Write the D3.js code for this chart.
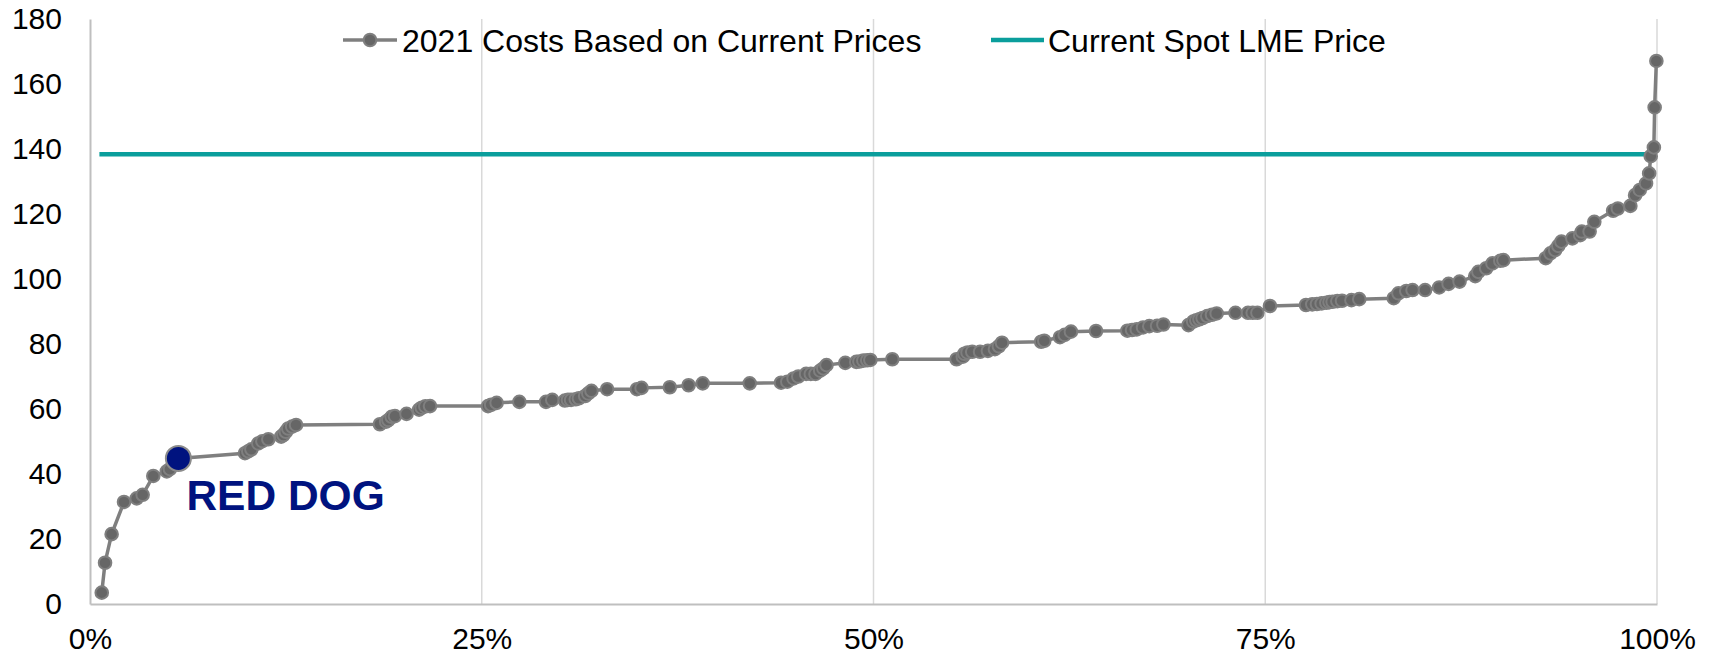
<!DOCTYPE html>
<html><head><meta charset="utf-8">
<script src="https://cdn.jsdelivr.net/npm/d3@7"></script>
<style>
html,body{margin:0;padding:0;background:#fff;}
svg{display:block;font-family:"Liberation Sans",Arial,sans-serif;}
</style></head>
<body>
<svg id="chart" width="1710" height="658"></svg>
<script>
// cumulative share of production (%) and 2021 cost
const cumPct = [0.75,0.96,1.38,2.17,2.98,3.36,4.04,4.9,5.1,5.64,9.89,10.1,10.3,10.74,11.0,11.38,12.2,12.34,12.5,12.65,12.9,13.15,18.5,18.9,19.04,19.25,19.46,20.2,21.0,21.17,21.4,21.7,25.4,25.6,25.95,27.4,29.1,29.5,30.3,30.5,30.7,31.0,31.2,31.6,31.8,32.0,33.0,34.9,35.2,37.0,38.2,39.1,42.1,44.1,44.5,44.9,45.2,45.7,46.0,46.3,46.6,46.8,47.0,48.2,48.9,49.1,49.35,49.6,49.8,51.2,55.3,55.7,55.8,56.0,56.3,56.8,57.3,57.75,58.0,58.2,60.7,60.9,61.9,62.2,62.6,64.2,66.2,66.5,66.8,67.2,67.6,68.1,68.5,70.1,70.4,70.6,70.8,71.0,71.3,71.6,71.9,73.1,73.9,74.2,74.5,75.3,77.6,78.0,78.3,78.6,78.9,79.1,79.3,79.6,79.9,80.5,81.0,83.2,83.5,84.0,84.4,85.2,86.1,86.7,87.4,88.4,88.6,89.1,89.5,90.0,90.2,92.9,93.2,93.5,93.7,93.9,94.6,95.1,95.2,95.7,96.0,97.2,97.5,98.3,98.6,98.9,99.3,99.5,99.6,99.8,99.85,99.96];
const costs = [3.5,12.7,21.5,31.4,32.5,33.6,39.4,40.8,41.5,44.8,46.4,47.0,47.6,49.4,50.1,50.7,51.5,52.0,53.0,54.0,54.6,55.1,55.3,56.1,56.6,57.6,57.8,58.5,59.8,60.4,60.8,60.9,60.9,61.3,61.9,62.2,62.2,62.8,62.6,62.8,62.8,63.0,63.3,64.0,64.8,65.6,66.1,66.1,66.5,66.7,67.3,67.9,67.9,68.1,68.4,69.4,70.0,70.8,70.8,70.8,71.8,72.5,73.5,74.2,74.5,74.6,74.9,75.0,75.1,75.3,75.3,76.1,77.0,77.4,77.6,77.6,77.9,78.4,79.3,80.4,80.7,81.0,82.1,82.8,83.8,84.0,84.1,84.3,84.5,85.1,85.5,85.6,86.0,85.8,86.9,87.3,87.6,88.0,88.6,89.0,89.4,89.6,89.6,89.6,89.6,91.7,92.0,92.2,92.3,92.5,92.7,92.9,93.0,93.2,93.3,93.5,93.8,94.1,95.6,96.3,96.6,96.6,97.4,98.5,99.2,100.9,102.2,103.3,104.8,105.6,105.8,106.4,107.9,108.9,110.2,111.5,112.5,113.5,114.6,114.6,117.6,121.0,121.7,122.5,125.8,127.4,129.4,132.5,137.8,140.5,152.8,167.1];
const redDogIndex = 9;
const spotPrice = 138.4;
const yTicks = [0,20,40,60,80,100,120,140,160,180];
const xTicks = [0,0.25,0.5,0.75,1];
const seriesNames = ["2021 Costs Based on Current Prices","Current Spot LME Price"];
const highlightLabel = "RED DOG";

const svg = d3.select("#chart");
const x = d3.scaleLinear().domain([0,1]).range([90,1657]);
const y = d3.scaleLinear().domain([0,180]).range([604,19]);
const data = cumPct.map((p,i)=>({p:p/100,c:costs[i]}));

// vertical gridlines
svg.append("g").selectAll("line").data(xTicks.slice(1)).join("line")
  .attr("x1",d=>x(d)).attr("x2",d=>x(d)).attr("y1",y(180)).attr("y2",y(0))
  .attr("stroke","#d9d9d9").attr("stroke-width",1.5);

// axes
const xAxis = svg.append("g").attr("transform",`translate(0,${y(0)})`)
  .call(d3.axisBottom(x).tickValues(xTicks).tickFormat(d3.format(".0%")).tickSize(0).tickPadding(24));
xAxis.select(".domain").attr("stroke","#bfbfbf").attr("stroke-width",2);
xAxis.selectAll("text").attr("font-size",30).attr("fill","#000").attr("font-family","Liberation Sans, Arial, sans-serif");

const yAxis = svg.append("g").attr("transform",`translate(${x(0)},0)`)
  .call(d3.axisLeft(y).tickValues(yTicks).tickSize(0).tickPadding(28));
yAxis.select(".domain").attr("stroke","#bfbfbf").attr("stroke-width",2);
yAxis.selectAll("text").attr("font-size",30).attr("fill","#000").attr("font-family","Liberation Sans, Arial, sans-serif");

// spot price line
svg.append("line").attr("x1",x(0.006)).attr("x2",x(1)).attr("y1",y(spotPrice)).attr("y2",y(spotPrice))
  .attr("stroke","#0a9e9c").attr("stroke-width",4.5);

// cost curve
svg.append("path").datum(data)
  .attr("d",d3.line().x(d=>x(d.p)).y(d=>y(d.c)))
  .attr("fill","none").attr("stroke","#7f7f7f").attr("stroke-width",3.5);

svg.append("g").selectAll("circle").data(data.filter((d,i)=>i!==redDogIndex)).join("circle")
  .attr("cx",d=>x(d.p)).attr("cy",d=>y(d.c)).attr("r",6.3)
  .attr("fill","#666666").attr("stroke","#7f7f7f").attr("stroke-width",2);

// Red Dog highlight
const rd = data[redDogIndex];
svg.append("circle").attr("cx",x(rd.p)).attr("cy",y(rd.c)).attr("r",12.5)
  .attr("fill","#00137f").attr("stroke","#8c8c8c").attr("stroke-width",2);
svg.append("text").attr("x",x(rd.p)+8).attr("y",y(rd.c)+52)
  .attr("font-size",42.5).attr("font-weight","bold").attr("fill","#00137f").text(highlightLabel);

// legend
const lg = svg.append("g");
lg.append("line").attr("x1",343).attr("x2",397).attr("y1",40).attr("y2",40).attr("stroke","#7f7f7f").attr("stroke-width",3.5);
lg.append("circle").attr("cx",370).attr("cy",40).attr("r",6.3).attr("fill","#666").attr("stroke","#7f7f7f").attr("stroke-width",2);
lg.append("text").attr("x",402).attr("y",51.5).attr("font-size",32).attr("fill","#000").text(seriesNames[0]);
lg.append("line").attr("x1",991).attr("x2",1044).attr("y1",40).attr("y2",40).attr("stroke","#0a9e9c").attr("stroke-width",4.5);
lg.append("text").attr("x",1048).attr("y",51.5).attr("font-size",32).attr("fill","#000").text(seriesNames[1]);
</script>
</body></html>
